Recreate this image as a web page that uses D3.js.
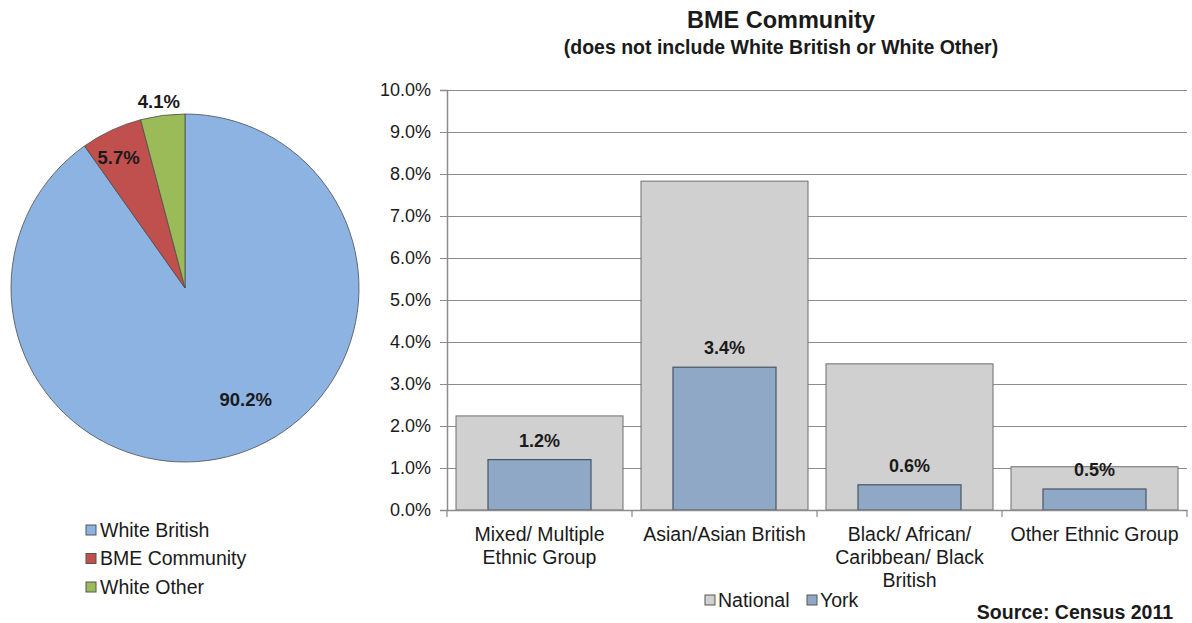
<!DOCTYPE html>
<html>
<head>
<meta charset="utf-8">
<script src="https://cdn.jsdelivr.net/npm/d3@7"></script>
<style>
  body { margin: 0; background: #fff; }
  text { font-family: "Liberation Sans", Arial, sans-serif; fill: #1a1a1a; }
</style>
</head>
<body>
<script>
// pie data
var pieLabels = ['White British', 'BME Community', 'White Other'];
var pieValues = [90.2, 5.7, 4.1];
var pieColors = ['#8db3e2', '#c0504d', '#9bbb59'];

// bar data
var categories = [['Mixed/ Multiple', 'Ethnic Group'], ['Asian/Asian British'],
                  ['Black/ African/', 'Caribbean/ Black', 'British'], ['Other Ethnic Group']];
var national = [2.24, 7.83, 3.48, 1.03];
var york = [1.2, 3.4, 0.6, 0.5];
var yTicks = [0, 1, 2, 3, 4, 5, 6, 7, 8, 9, 10];

var WIDTH = 1192, HEIGHT = 623;

var svg = d3.select('body').append('svg')
  .attr('width', WIDTH)
  .attr('height', HEIGHT);

// ---- pie ----
var cx = 185, cy = 288, R = 174;
var pie = d3.pie().sort(null).value(function(d){ return d; });
var arc = d3.arc().innerRadius(0).outerRadius(R);
var arcs = pie(pieValues);

var pg = svg.append('g').attr('transform', 'translate(' + cx + ',' + cy + ')');
pg.selectAll('path')
  .data(arcs)
  .enter()
  .append('path')
  .attr('d', arc)
  .attr('fill', function(d, i){ return pieColors[i]; })
  .attr('stroke', '#4d4d4d')
  .attr('stroke-width', 0.8);

// label radius per slice (the small green one sits outside), plus a nudge like excel does
var labelR = [0.62, 0.78, 1.08];
var nudge = [[28, 9], [-9, -8], [-2, 0]];
pg.selectAll('text.pl')
  .data(arcs)
  .enter()
  .append('text')
  .attr('class', 'pl')
  .attr('x', function(d, i){
    var a = (d.startAngle + d.endAngle) / 2;
    return Math.sin(a) * R * labelR[i] + nudge[i][0];
  })
  .attr('y', function(d, i){
    var a = (d.startAngle + d.endAngle) / 2;
    return -Math.cos(a) * R * labelR[i] + nudge[i][1];
  })
  .attr('dy', '0.35em')
  .attr('text-anchor', 'middle')
  .style('font-size', '18.5px')
  .style('font-weight', 'bold')
  .text(function(d, i){ return pieValues[i].toFixed(1) + '%'; });

// pie legend
var pl = svg.append('g').attr('transform', 'translate(86,521)');
pieLabels.forEach(function(name, i){
  pl.append('rect')
    .attr('x', 0).attr('y', i * 28.5 + 4)
    .attr('width', 10).attr('height', 10)
    .attr('fill', pieColors[i])
    .attr('stroke', '#555');
  pl.append('text')
    .attr('x', 14).attr('y', i * 28.5 + 9)
    .attr('dy', '0.35em')
    .style('font-size', '19.5px')
    .text(name);
});

// ---- bar chart ----
var plotLeft = 447, plotRight = 1187, plotTop = 90, plotBottom = 510;

var x = d3.scaleBand()
  .domain(d3.range(categories.length))
  .range([plotLeft, plotRight]);

var y = d3.scaleLinear()
  .domain([0, 10])
  .range([plotBottom, plotTop]);

// grid lines
svg.append('g')
  .attr('transform', 'translate(' + plotLeft + ',0)')
  .call(d3.axisLeft(y).tickValues(yTicks).tickSize(-(plotRight - plotLeft)).tickFormat(''))
  .call(function(g){
    g.select('.domain').remove();
    g.selectAll('line').attr('stroke', '#8c8c8c').attr('stroke-width', 1.2);
  });

// y axis
svg.append('g')
  .attr('transform', 'translate(' + plotLeft + ',0)')
  .call(d3.axisLeft(y).tickValues(yTicks).tickSize(7).tickPadding(9)
    .tickFormat(function(d){ return d.toFixed(1) + '%'; }))
  .call(function(g){
    g.select('.domain').attr('stroke', '#8c8c8c').attr('stroke-width', 1.5);
    g.selectAll('line').attr('stroke', '#8c8c8c');
    g.selectAll('text').style('font-size', '18px').attr('fill', '#1a1a1a')
      .style('font-family', '"Liberation Sans", Arial, sans-serif');
  });

// national bars
var natPad = 9;
svg.selectAll('rect.nat')
  .data(national)
  .enter()
  .append('rect')
  .attr('class', 'nat')
  .attr('x', function(d, i){ return x(i) + natPad; })
  .attr('width', x.bandwidth() - 2 * natPad)
  .attr('y', function(d){ return y(d); })
  .attr('height', function(d){ return plotBottom - y(d); })
  .attr('fill', '#d0d0d0')
  .attr('stroke', '#6e6e6e')
  .attr('stroke-width', 1);

// york bars
var yorkPad = 41;
svg.selectAll('rect.york')
  .data(york)
  .enter()
  .append('rect')
  .attr('class', 'york')
  .attr('x', function(d, i){ return x(i) + yorkPad; })
  .attr('width', x.bandwidth() - 2 * yorkPad)
  .attr('y', function(d){ return y(d); })
  .attr('height', function(d){ return plotBottom - y(d); })
  .attr('fill', '#8ea8c6')
  .attr('stroke', '#465566')
  .attr('stroke-width', 1.2);

// york value labels
svg.selectAll('text.val')
  .data(york)
  .enter()
  .append('text')
  .attr('class', 'val')
  .attr('x', function(d, i){ return x(i) + x.bandwidth() / 2; })
  .attr('y', function(d){ return y(d) - 13; })
  .attr('text-anchor', 'middle')
  .style('font-size', '18px')
  .style('font-weight', 'bold')
  .text(function(d){ return d.toFixed(1) + '%'; });

// x axis
svg.append('g')
  .attr('transform', 'translate(0,' + plotBottom + ')')
  .call(d3.axisBottom(x).tickValues([]).tickSizeOuter(0))
  .call(function(g){
    g.select('.domain').attr('stroke', '#8c8c8c').attr('stroke-width', 1.5);
  });
svg.append('g')
  .selectAll('line')
  .data(d3.range(categories.length + 1))
  .enter()
  .append('line')
  .attr('x1', function(i){ return plotLeft + i * x.step(); })
  .attr('x2', function(i){ return plotLeft + i * x.step(); })
  .attr('y1', plotBottom).attr('y2', plotBottom + 7)
  .attr('stroke', '#8c8c8c').attr('stroke-width', 1.2);

// category labels
categories.forEach(function(lines, i){
  var t = svg.append('text')
    .attr('x', x(i) + x.bandwidth() / 2)
    .attr('y', 541)
    .attr('text-anchor', 'middle')
    .style('font-size', '19.5px');
  lines.forEach(function(s, j){
    t.append('tspan')
      .attr('x', x(i) + x.bandwidth() / 2)
      .attr('dy', j === 0 ? 0 : 23)
      .text(s);
  });
});

// titles
svg.append('text')
  .attr('x', 781).attr('y', 28)
  .attr('text-anchor', 'middle')
  .style('font-size', '23.5px').style('font-weight', 'bold')
  .text('BME Community');
svg.append('text')
  .attr('x', 781).attr('y', 54)
  .attr('text-anchor', 'middle')
  .style('font-size', '19.5px').style('font-weight', 'bold')
  .text('(does not include White British or White Other)');

// bar legend
var legendNames = ['National', 'York'];
var legendFill = ['#d0d0d0', '#8ea8c6'];
var legendX = [705, 807];
legendNames.forEach(function(n, i){
  svg.append('rect')
    .attr('x', legendX[i]).attr('y', 595)
    .attr('width', 10).attr('height', 10)
    .attr('fill', legendFill[i]).attr('stroke', '#555');
  svg.append('text')
    .attr('x', legendX[i] + 13).attr('y', 600)
    .attr('dy', '0.35em')
    .style('font-size', '19.5px')
    .text(n);
});

svg.append('text')
  .attr('x', 1173).attr('y', 619)
  .attr('text-anchor', 'end')
  .style('font-size', '19.5px').style('font-weight', 'bold')
  .text('Source: Census 2011');
</script>
</body>
</html>
